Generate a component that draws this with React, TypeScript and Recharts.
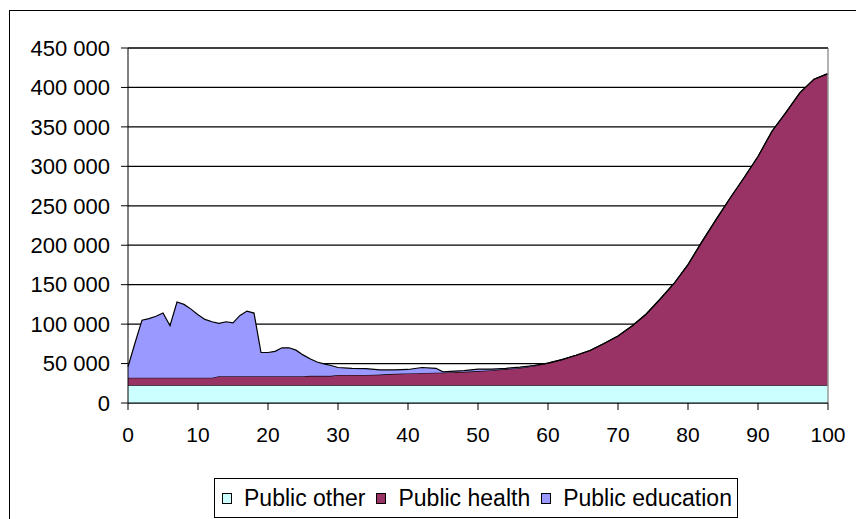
import { AreaChart, Area, XAxis, YAxis, CartesianGrid, ReferenceLine } from "recharts";

const ages = [
  0, 1, 2, 3, 4, 5, 6, 7, 8, 9, 10, 11, 12, 13, 14, 15, 16, 17, 18, 19, 20, 21, 22, 23, 24, 25, 26, 27, 28, 29, 30,
  32, 34, 36, 38, 40, 42, 44, 45, 46,
  48, 50, 52, 54, 56, 58, 60, 62, 64, 66, 68, 70, 72, 74, 76, 78, 80, 82, 84, 86, 88, 90, 92, 94, 96, 98, 100,
];

const publicOther = ages.map(() => 22500);

const publicHealth = [
  9500, 9500, 9500, 9500, 9500, 9500, 9500, 9500, 9500, 9500, 9500, 9500, 9500,
  11500, 11500, 11500, 11500, 11500, 11500, 11500, 11500, 11500, 11500, 11500, 11500, 11500,
  12000, 12000, 12000, 12000, 13000,
  13000, 13000, 13500, 14500, 15000, 15500, 16000, 16000, 16500,
  17000, 18000, 19000, 20500, 22000, 24500, 28000, 32500, 38000, 44000, 53000, 62500, 75000, 90000,
  109000, 129000, 153000, 182000, 210000, 237000, 263000, 290000, 322000, 346000, 371000, 388000, 395000,
];

const publicEducation = [
  14000, 44000, 73000, 75000, 78000, 82000, 66000, 96000, 93000, 87000, 80000, 74000, 71000,
  67000, 69000, 67500, 77000, 82500, 80000, 30000, 30000, 31500, 36000, 36000, 33000, 27000,
  21500, 17500, 15000, 13000, 9500,
  8500, 8000, 6000, 5000, 5000, 7000, 5500, 1000, 1000,
  1500, 2500, 1500, 1000, 1000, 500, 0, 0, 0, 0, 0, 0, 0, 0,
  0, 0, 0, 0, 0, 0, 0, 0, 0, 0, 0, 0, 0,
];

const xTicks = [0, 10, 20, 30, 40, 50, 60, 70, 80, 90, 100];
const yTicks = [0, 50000, 100000, 150000, 200000, 250000, 300000, 350000, 400000, 450000];

const series = [
  { key: "other", name: "Public other", color: "#CCFFFF" },
  { key: "health", name: "Public health", color: "#993366" },
  { key: "education", name: "Public education", color: "#9999FF" },
];

const data = ages.map((age, i) => ({
  age,
  other: publicOther[i],
  health: publicHealth[i],
  education: publicEducation[i],
}));

const font = "'Liberation Sans', Arial, sans-serif";

const fmt = (v: number) => String(v).replace(/\B(?=(\d{3})+(?!\d))/g, " ");

export default function App() {
  return (
    <div style={{ position: "absolute", left: 0, top: 0, width: 856, height: 519, background: "#fff", overflow: "hidden", fontFamily: font }}>
      <div style={{ position: "absolute", left: 9, top: 10, width: 900, height: 600, border: "1px solid #000" }} />
      <div style={{ position: "absolute", left: 0, top: 0 }}>
        <AreaChart width={856} height={519} data={data} margin={{ top: 48, right: 28, left: 0, bottom: 76 }}>
          <CartesianGrid vertical={false} stroke="#000" strokeWidth={1.2} />
          <XAxis
            dataKey="age"
            type="number"
            domain={[0, 100]}
            ticks={xTicks}
            tickSize={7}
            tickMargin={17}
            height={40}
            stroke="#000"
            tick={{ fill: "#000", fontSize: 21, fontFamily: font }}
          />
          <YAxis
            type="number"
            domain={[0, 450000]}
            ticks={yTicks}
            tickFormatter={fmt}
            width={128}
            tickSize={7}
            tickMargin={11}
            stroke="#000"
            tick={{ fill: "#000", fontSize: 22, fontFamily: font }}
          />
          {series.map((s) => (
            <Area
              key={s.key}
              type="linear"
              dataKey={s.key}
              name={s.name}
              stackId="1"
              fill={s.color}
              fillOpacity={1}
              stroke="#000"
              strokeWidth={1.2}
              isAnimationActive={false}
            />
          ))}
          <ReferenceLine x={100} stroke="#999" strokeWidth={1.5} />
          <ReferenceLine y={450000} stroke="#000" strokeWidth={1.2} />
        </AreaChart>
      </div>
      <div
        style={{
          position: "absolute",
          left: 214,
          top: 478,
          width: 524,
          height: 40,
          border: "1px solid #000",
          background: "#fff",
          display: "flex",
          alignItems: "center",
          paddingLeft: 7,
          fontSize: 23,
          color: "#000",
          boxSizing: "border-box",
          whiteSpace: "nowrap",
        }}
      >
        {series.map((s) => (
          <div key={s.key} style={{ display: "flex", alignItems: "center", marginRight: 11 }}>
            <span style={{ display: "inline-block", width: 8, height: 9, background: s.color, border: "1px solid #000", marginRight: 12 }} />
            <span>{s.name}</span>
          </div>
        ))}
      </div>
    </div>
  );
}
